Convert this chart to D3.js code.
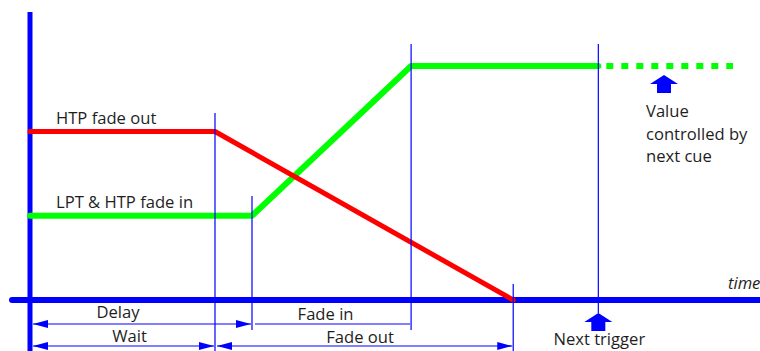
<!DOCTYPE html>
<html lang="en">
<head>
<meta charset="UTF-8">
<title>HTP / LTP cue timing</title>
<script src="https://d3js.org/d3.v7.min.js"></script>
<style>
    body { margin: 0; background: #fff; }
    svg text { font-family: "Open Sans", sans-serif; font-size: 16.6px; fill: #1e1e1e; }
</style>
</head>
<body>
<div id="chart"></div>
<script>
    // timing of the cue (time units) and levels (0-100)
    const markerNames = ["Wait end", "Delay end", "Fade in end", "Fade out end", "Next trigger"];
    const markerTimes = [2.5, 3.0, 5.15, 6.53, 7.68];

    const htpOut = [[0, 72], [2.5, 72], [6.53, 0]];
    const ltpIn = [[0, 36], [3.0, 36], [5.15, 100], [7.68, 100]];
    const nextCue = [[7.68, 100], [9.5, 100]];

    const curveLabels = ["HTP fade out", "LPT & HTP fade in"];
    const curveLevels = [72, 36];

    const spanLabels = ["Delay", "Fade in", "Wait", "Fade out"];
    const spanStart = [0, 3.0, 0, 2.5];
    const spanEnd = [3.0, 5.15, 2.5, 6.53];

    const noteLines = ["Value", "controlled by", "next cue"];

    const width = 760, height = 351;
    const blue = "#0000ff";

    const svg = d3.select("#chart").append("svg")
        .attr("width", width)
        .attr("height", height);

    const x = d3.scaleLinear().domain([0, 10]).range([30, 770]);
    const y = d3.scaleLinear().domain([0, 100]).range([300, 66]);

    const defs = svg.append("defs");
    defs.append("marker")
        .attr("id", "head")
        .attr("viewBox", "0 0 15 8")
        .attr("refX", 15).attr("refY", 4)
        .attr("markerWidth", 15).attr("markerHeight", 8)
        .attr("markerUnits", "userSpaceOnUse")
        .attr("orient", "auto-start-reverse")
        .append("path")
        .attr("d", "M0,0L15,4L0,8Z")
        .attr("fill", blue);

    // axes
    svg.append("line")
        .attr("x1", 12).attr("x2", width + 10)
        .attr("y1", y(0)).attr("y2", y(0))
        .attr("stroke", blue).attr("stroke-width", 6)
        .attr("stroke-linecap", "round");
    svg.append("line")
        .attr("x1", x(0)).attr("x2", x(0))
        .attr("y1", 12).attr("y2", height)
        .attr("stroke", blue).attr("stroke-width", 5);

    svg.append("text")
        .attr("x", 728).attr("y", 289)
        .style("font-style", "italic")
        .text("time");

    const line = d3.line().x(d => x(d[0])).y(d => y(d[1]));

    svg.append("path")
        .attr("d", line(ltpIn))
        .attr("fill", "none").attr("stroke", "#00ff00").attr("stroke-width", 6)
        .attr("stroke-linecap", "round").attr("stroke-linejoin", "round");
    svg.append("path")
        .attr("d", line(nextCue))
        .attr("fill", "none").attr("stroke", "#00ff00").attr("stroke-width", 6)
        .attr("stroke-dasharray", "7 8").attr("stroke-dashoffset", -8);
    svg.append("path")
        .attr("d", line(htpOut))
        .attr("fill", "none").attr("stroke", "#ff0000").attr("stroke-width", 5)
        .attr("stroke-linecap", "round").attr("stroke-linejoin", "round");

    // guide lines at each event
    const guideTop = [113, 196, 44, 284, 44];
    const guideBottom = [height, 330, 330, height, 313];
    svg.selectAll(".guide")
        .data(markerTimes)
        .join("line")
        .attr("class", "guide")
        .attr("x1", d => x(d)).attr("x2", d => x(d))
        .attr("y1", (d, i) => guideTop[i])
        .attr("y2", (d, i) => guideBottom[i])
        .attr("stroke", blue).attr("stroke-width", 1.2);

    curveLabels.forEach((t, i) => {
        svg.append("text")
            .attr("x", x(0) + 26)
            .attr("y", y(curveLevels[i]) - 8)
            .text(t);
    });

    // spans below the axis
    const rowY = [324, 324, 346, 346];
    const withHeads = [true, false, true, true];
    const labelY = [318, 320, 342, 343];
    const labelDx = [-23, -6, 7, -4];
    spanLabels.forEach((t, i) => {
        const x0 = x(spanStart[i]) + (i === 3 ? 2 : 3);
        const x1 = x(spanEnd[i]) - 1;
        const seg = svg.append("line")
            .attr("x1", x0).attr("x2", x1)
            .attr("y1", rowY[i]).attr("y2", rowY[i])
            .attr("stroke", blue).attr("stroke-width", 1.2);
        if (withHeads[i]) {
            seg.attr("marker-start", "url(#head)").attr("marker-end", "url(#head)");
        }
        svg.append("text")
            .attr("x", (x(spanStart[i]) + x(spanEnd[i])) / 2 + labelDx[i])
            .attr("y", labelY[i])
            .attr("text-anchor", "middle")
            .text(t);
    });

    // block arrows
    function blockArrow(cx, top) {
        const p = d3.path();
        p.moveTo(cx, top);
        p.lineTo(cx + 14, top + 9);
        p.lineTo(cx + 7, top + 9);
        p.lineTo(cx + 7, top + 18);
        p.lineTo(cx - 7, top + 18);
        p.lineTo(cx - 7, top + 9);
        p.lineTo(cx - 14, top + 9);
        p.closePath();
        svg.append("path").attr("d", p.toString()).attr("fill", blue);
    }
    const nextX = x(markerTimes[4]);
    blockArrow(nextX, 313);
    svg.append("text")
        .attr("x", nextX + 1).attr("y", 345)
        .attr("text-anchor", "middle")
        .text("Next trigger");

    blockArrow(664, 75);
    noteLines.forEach((t, i) => {
        svg.append("text")
            .attr("x", 646).attr("y", 117 + i * 22.5)
            .text(t);
    });
</script>
</body>
</html>
